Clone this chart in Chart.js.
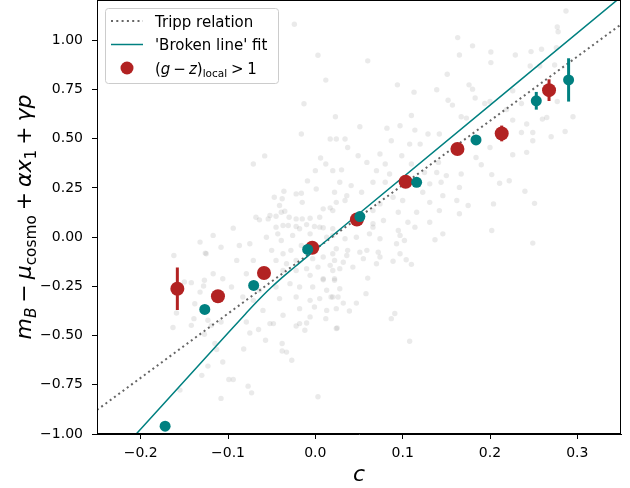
<!DOCTYPE html>
<html><head><meta charset="utf-8">
<script src="https://cdn.jsdelivr.net/npm/chart.js@4.4.1/dist/chart.umd.min.js"></script>
<style>html,body{margin:0;padding:0;background:#fff}#wrap{width:630px;height:488px;position:relative}</style>
</head><body><div id="wrap"><canvas id="c" width="630" height="488"></canvas></div>
<script>
// ---- data ----
const xTicks = [-0.2, -0.1, 0.0, 0.1, 0.2, 0.3];
const yTicks = [-1.0, -0.75, -0.5, -0.25, 0.0, 0.25, 0.5, 0.75, 1.0];

const redC   = [-0.158, -0.1115, -0.0588, -0.0035, 0.0476, 0.1034, 0.1627, 0.2134, 0.2676];
const redY   = [-0.262, -0.300, -0.182, -0.054, 0.090, 0.282, 0.448, 0.527, 0.747];
const redErr = [0.108, 0.025, 0.02, 0.015, 0.015, 0.02, 0.025, 0.04, 0.055];

const tealC   = [-0.172, -0.1266, -0.0706, -0.0088, 0.051, 0.116, 0.184, 0.253, 0.290];
const tealY   = [-0.960, -0.367, -0.245, -0.062, 0.105, 0.279, 0.494, 0.693, 0.799];
const tealErr = [0.02, 0.02, 0.02, 0.015, 0.015, 0.02, 0.02, 0.045, 0.11];

const trippC = [-0.25, 0.35];
const trippY = [-0.878, 1.081];

const brokenC = [-0.21, -0.1, -0.08, -0.07, -0.06, -0.05, -0.04, -0.03, -0.02, -0.01, 0.0, 0.35];
const brokenY = [-1.024, -0.487, -0.390, -0.342, -0.296, -0.253, -0.213, -0.175, -0.138, -0.101, -0.064, 1.221];

const cloudC = [
0.003,0.060,0.012,0.094,0.113,-0.013,0.023,0.110,
0.287,0.163,0.180,0.165,0.201,0.201,0.229,0.247,0.259,0.277,0.278,0.276,0.151,0.139,0.176,0.180,0.246,0.257,0.274,0.183,0.152,0.157,0.194,0.200,0.226,0.236,0.219,0.277,0.167,0.173,0.226,0.242,0.260,0.265,0.295,
0.249,0.249,0.286,0.270,0.236,0.226,0.242,0.202,0.211,0.222,0.240,0.251,0.204,0.202,0.249,0.175,0.190,0.200,0.184,0.146,
0.051,0.082,0.097,0.114,0.129,0.142,0.024,0.034,0.087,0.108,0.120,0.037,0.049,0.074,0.099,0.059,0.080,0.110,0.141,0.020,0.030,0.070,0.085,0.125,0.139,0.150,0.167,0.028,0.041,0.066,0.080,0.131,0.144,0.165,0.022,0.036,0.053,0.089,0.123,0.146,0.024,0.034,0.074,0.100,0.131,0.162,0.020,0.066,0.095,0.116,0.142,0.078,0.106,0.131,0.066,0.165,
0.066,0.095,0.114,0.137,0.020,0.034,0.047,0.062,0.074,0.093,0.102,0.024,0.037,0.051,0.059,0.072,0.097,0.022,0.036,0.074,0.089,0.104,0.110,0.032,0.055,0.020,0.028,0.043,0.070,0.022,0.060,0.028,0.058,0.018,0.026,0.032,0.047,0.039,0.091,0.087,0.024,0.097,
0.003,0.108,0.025,0.012,0.009,
-0.016,0.017,-0.058,-0.071,0.006,0.012,0.000,-0.009,0.001,-0.036,-0.022,-0.016,-0.038,-0.015,-0.041,-0.035,-0.052,-0.045,-0.064,-0.054,-0.030,-0.022,-0.015,-0.006,0.005,-0.037,-0.022,-0.010,-0.001,0.009,0.017,-0.094,0.009,
-0.117,-0.108,-0.125,-0.087,-0.075,-0.090,-0.071,-0.117,-0.127,-0.106,-0.096,-0.079,-0.045,-0.031,-0.018,-0.056,-0.039,-0.026,-0.006,0.005,0.020,0.013,-0.050,-0.037,-0.028,-0.045,-0.033,-0.022,-0.003,0.009,0.020,-0.037,-0.022,-0.010,0.003,0.017,-0.006,0.009,0.022,-0.045,-0.029,-0.018,-0.003,0.013,-0.041,-0.022,-0.006,0.005,0.020,-0.018,-0.001,0.013,0.024,-0.037,-0.006,-0.018,-0.048,-0.071,-0.064,-0.083,-0.113,-0.123,-0.060,-0.043,-0.016,-0.010,
-0.163,-0.142,-0.119,-0.108,-0.127,-0.115,-0.113,-0.106,-0.123,-0.130,-0.099,-0.094,-0.108,-0.082,-0.075,-0.065,-0.057,-0.038,-0.038,-0.033,-0.027,-0.077,-0.073,-0.079,-0.052,-0.022,-0.012,-0.010,-0.155,
-0.132,-0.162,-0.126,-0.150,-0.142,-0.128,-0.132,-0.138,-0.159,-0.139,
-0.024,-0.047,-0.039,-0.068
];
const cloudY = [
0.924,0.896,0.798,0.774,0.737,0.678,0.612,0.618,
1.149,1.014,0.972,0.926,0.941,0.887,0.926,0.943,0.955,1.068,1.044,0.963,0.828,0.749,0.774,0.752,0.870,0.870,0.875,0.707,0.696,0.671,0.679,0.689,0.744,0.679,0.649,0.689,0.612,0.605,0.595,0.575,0.600,0.608,0.612,
0.490,0.532,0.537,0.510,0.532,0.419,0.431,0.318,0.274,0.287,0.233,0.172,0.169,0.034,-0.030,0.161,0.368,0.456,0.405,0.017,
0.561,0.554,0.566,0.544,0.524,0.524,0.499,0.499,0.490,0.473,0.473,0.456,0.414,0.423,0.414,0.380,0.372,0.372,0.380,0.338,0.342,0.338,0.321,0.329,0.329,0.313,0.321,0.279,0.262,0.279,0.279,0.271,0.279,0.253,0.228,0.211,0.228,0.203,0.228,0.211,0.177,0.186,0.169,0.186,0.177,0.186,0.135,0.135,0.127,0.127,0.135,0.085,0.076,0.076,0.051,0.119,
0.068,0.034,0.051,-0.013,0.009,-0.008,0.000,0.017,-0.008,-0.033,-0.017,-0.059,-0.067,-0.076,-0.067,-0.076,-0.084,-0.118,-0.093,-0.101,-0.122,-0.115,-0.138,-0.127,-0.109,-0.169,-0.160,-0.152,-0.135,-0.219,-0.208,-0.262,-0.287,-0.304,-0.304,-0.335,-0.335,-0.375,-0.388,-0.414,-0.464,0.009,
-0.811,-0.529,-0.461,-0.414,-0.216,
0.524,0.499,0.413,0.372,0.402,0.372,0.338,0.286,0.245,0.233,0.220,0.223,0.195,0.177,0.161,0.132,0.110,0.106,0.088,0.093,0.101,0.093,0.093,0.096,0.101,0.059,0.054,0.064,0.054,0.048,0.149,0.046,0.144,
0.009,-0.051,-0.084,-0.042,-0.033,-0.118,-0.118,-0.186,-0.219,-0.211,-0.253,-0.186,0.051,0.059,0.043,0.000,-0.017,0.009,0.017,0.051,0.043,0.000,-0.067,-0.084,-0.067,-0.118,-0.135,-0.118,-0.109,-0.101,-0.084,-0.169,-0.169,-0.160,-0.152,-0.143,-0.194,-0.211,-0.211,-0.253,-0.236,-0.253,-0.253,-0.270,-0.312,-0.304,-0.321,-0.312,-0.304,-0.363,-0.355,-0.372,-0.363,-0.397,-0.405,-0.439,-0.439,-0.321,-0.270,-0.304,-0.312,-0.422,-0.372,0.017,-0.042,-0.051,
-0.459,-0.448,-0.448,-0.431,-0.493,-0.540,-0.571,-0.634,-0.655,-0.702,-0.723,-0.723,-0.819,-0.568,-0.487,-0.469,-0.524,-0.540,-0.578,-0.584,-0.625,-0.757,-0.791,-0.431,-0.439,-0.451,-0.473,-0.436,-0.777,
-0.025,-0.093,-0.081,-0.228,-0.231,-0.248,-0.279,-0.338,-0.385,-0.414,
1.082,0.203,0.127,0.101
];

// ---- helpers ----
const pts = (xs, ys) => xs.map((x, i) => ({x: x, y: ys[i]}));
const FONT = '"DejaVu Sans", "Liberation Sans", sans-serif';
const RED = '#b22222', TEAL = '#008080', DOT = '#666666';

function mathLayout(ctx, segs, size) {
  let w = 0; const items = [];
  for (const [t, k] of segs) {
    if (k === 'sp') { items.push({gap: t * size}); w += t * size; continue; }
    const sub = k[0] === 's';
    const it = k[k.length - 1] === 'i';
    const fs = sub ? size * 0.7 : size;
    const font = (it ? 'italic ' : '') + fs + 'px ' + FONT;
    ctx.font = font;
    const ww = ctx.measureText(t).width;
    items.push({t: t, font: font, w: ww, dy: sub ? size * 0.22 : 0});
    w += ww;
  }
  return {items: items, width: w};
}
function drawMath(ctx, segs, size, x, y, align) {
  const m = mathLayout(ctx, segs, size);
  let cx = align === 'center' ? x - m.width / 2 : x;
  ctx.textAlign = 'left'; ctx.textBaseline = 'alphabetic';
  for (const it of m.items) {
    if (it.gap !== undefined) { cx += it.gap; continue; }
    ctx.font = it.font; ctx.fillText(it.t, cx, y + it.dy); cx += it.w;
  }
}
const fmt = (v, d) => (v < -1e-9 ? '\u2212' : '') + Math.abs(v).toFixed(d);

// error bars drawn beneath each marker set
const errPlugin = {
  id: 'errbars',
  beforeDatasetDraw(chart, args) {
    const ds = chart.data.datasets[args.index];
    if (!ds.errY) return;
    const xs = chart.scales.x, ys = chart.scales.y, ctx = chart.ctx;
    ctx.save();
    ctx.strokeStyle = ds.backgroundColor; ctx.lineWidth = 3; ctx.lineCap = 'butt';
    ds.data.forEach((p, i) => {
      const px = xs.getPixelForValue(p.x);
      ctx.beginPath();
      ctx.moveTo(px, ys.getPixelForValue(p.y - ds.errY[i]));
      ctx.lineTo(px, ys.getPixelForValue(p.y + ds.errY[i]));
      ctx.stroke();
    });
    ctx.restore();
  }
};

const decorPlugin = {
  id: 'decor',
  afterDatasetsDraw(chart) {
    const {ctx, chartArea: a} = chart;
    ctx.save();
    ctx.strokeStyle = '#000'; ctx.lineWidth = 1;
    ctx.strokeRect(Math.round(a.left) + 0.5, Math.round(a.top) - 0.5, Math.round(a.right - a.left) - 1, Math.round(a.bottom - a.top));
    ctx.restore();
  },
  afterDraw(chart) {
    const {ctx, chartArea: a} = chart;
    ctx.save();
    ctx.fillStyle = '#000';
    // x-axis title
    drawMath(ctx, [['c', 'i']], 22, (a.left + a.right) / 2, 481, 'center');
    // y-axis title
    ctx.translate(31, 217);
    ctx.rotate(-Math.PI / 2);
    drawMath(ctx, [['m','i'],['B','si'],[0.22,'sp'],['\u2212','r'],[0.22,'sp'],['\u03bc','i'],['cosmo','sr'],[0.22,'sp'],['+','r'],[0.22,'sp'],['\u03b1','i'],['x','i'],['1','sr'],[0.22,'sp'],['+','r'],[0.22,'sp'],['\u03b3','i'],['p','i']], 22, 0, 0, 'center');
    ctx.restore();

    // legend
    ctx.save();
    const bx = 105.5, by = 8.5, bw = 173, bh = 75, r = 3;
    ctx.beginPath();
    ctx.moveTo(bx + r, by); ctx.lineTo(bx + bw - r, by); ctx.arcTo(bx + bw, by, bx + bw, by + r, r);
    ctx.lineTo(bx + bw, by + bh - r); ctx.arcTo(bx + bw, by + bh, bx + bw - r, by + bh, r);
    ctx.lineTo(bx + r, by + bh); ctx.arcTo(bx, by + bh, bx, by + bh - r, r);
    ctx.lineTo(bx, by + r); ctx.arcTo(bx, by, bx + r, by, r); ctx.closePath();
    ctx.fillStyle = 'rgba(255,255,255,0.8)'; ctx.fill();
    ctx.strokeStyle = '#cccccc'; ctx.lineWidth = 1; ctx.stroke();

    const rows = [21, 44.5, 68];
    ctx.lineWidth = 2; ctx.strokeStyle = DOT; ctx.setLineDash([2, 3.3]);
    ctx.beginPath(); ctx.moveTo(111, rows[0]); ctx.lineTo(143, rows[0]); ctx.stroke();
    ctx.setLineDash([]); ctx.lineWidth = 1.5; ctx.strokeStyle = TEAL;
    ctx.beginPath(); ctx.moveTo(111, rows[1]); ctx.lineTo(143, rows[1]); ctx.stroke();
    ctx.fillStyle = RED; ctx.beginPath(); ctx.arc(127, rows[2], 6.5, 0, Math.PI * 2); ctx.fill();

    ctx.fillStyle = '#000';
    ctx.font = '15px ' + FONT; ctx.textAlign = 'left'; ctx.textBaseline = 'alphabetic';
    ctx.fillText('Tripp relation', 155, rows[0] + 5.5);
    ctx.fillText("'Broken line' fit", 155, rows[1] + 5.5);
    drawMath(ctx, [['(','r'],['g','i'],[0.2,'sp'],['\u2212','r'],[0.2,'sp'],['z','i'],[')','r'],['local','sr'],[0.25,'sp'],['>','r'],[0.25,'sp'],['1','r']], 15, 155, rows[2] + 5.5, 'left');
    ctx.restore();
  }
};

const tickFont = {family: FONT, size: 14};
const noPad = s => { s.paddingTop = 0; s.paddingBottom = 0; s.paddingLeft = 0; s.paddingRight = 0; };

new Chart(document.getElementById('c'), {
  type: 'scatter',
  data: {
    datasets: [
      {label: 'cloud', data: pts(cloudC, cloudY), pointRadius: 2.7, pointBorderWidth: 0,
       backgroundColor: 'rgba(128,128,128,0.17)', order: 10},
      {label: 'Tripp relation', data: pts(trippC, trippY), showLine: true, pointRadius: 0,
       borderColor: DOT, borderWidth: 2, borderDash: [2, 3.3], order: 9},
      {label: "'Broken line' fit", data: pts(brokenC, brokenY), showLine: true, pointRadius: 0,
       borderColor: TEAL, borderWidth: 1.5, cubicInterpolationMode: 'monotone', order: 8},
      {label: 'red', data: pts(redC, redY), errY: redErr, pointRadius: 7, pointBorderWidth: 0,
       backgroundColor: RED, order: 7},
      {label: 'teal', data: pts(tealC, tealY), errY: tealErr, pointRadius: 5.5, pointBorderWidth: 0,
       backgroundColor: TEAL, order: 6}
    ]
  },
  options: {
    responsive: false, animation: false, devicePixelRatio: 1,
    layout: {autoPadding: false, padding: {top: 1, right: 9, left: 0, bottom: 0}},
    plugins: {legend: {display: false}, tooltip: {enabled: false}},
    scales: {
      x: {
        type: 'linear', min: -0.25, max: 0.35,
        afterBuildTicks: s => { s.ticks = xTicks.map(v => ({value: v})); },
        afterFit: s => { s.height = 54; noPad(s); },
        ticks: {font: tickFont, color: '#000', padding: 6, callback: v => fmt(v, 1), maxRotation: 0, autoSkip: false},
        grid: {drawOnChartArea: false, drawTicks: true, tickLength: 5, tickColor: '#000', tickWidth: 1},
        border: {color: '#000', width: 1}
      },
      y: {
        type: 'linear', min: -1.0, max: 1.2,
        afterBuildTicks: s => { s.ticks = yTicks.map(v => ({value: v})); },
        afterFit: s => { s.width = 97; noPad(s); },
        ticks: {font: tickFont, color: '#000', padding: 9, callback: v => fmt(v, 2), autoSkip: false},
        grid: {drawOnChartArea: false, drawTicks: true, tickLength: 5, tickColor: '#000', tickWidth: 1},
        border: {color: '#000', width: 1}
      }
    }
  },
  plugins: [errPlugin, decorPlugin]
});
</script>
</body></html>
